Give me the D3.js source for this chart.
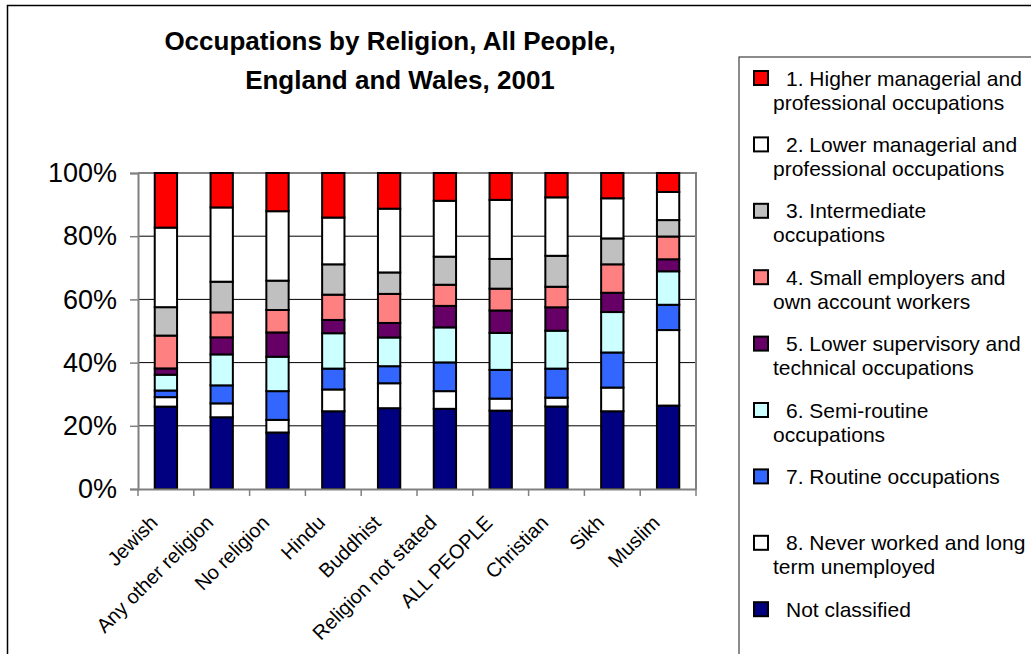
<!DOCTYPE html>
<html>
<head>
<meta charset="utf-8">
<script src="https://cdn.jsdelivr.net/npm/d3@7/dist/d3.min.js"></script>
<style>
  html, body { margin: 0; padding: 0; background: #fff; }
  svg { display: block; }
  text { font-family: "Liberation Sans", Arial, Helvetica, sans-serif; fill: #000; }
</style>
</head>
<body>
<svg id="chart" width="1031" height="654"></svg>
<script>
// ---------- DATA ----------
const categories = ["Jewish", "Any other religion", "No religion", "Hindu", "Buddhist",
  "Religion not stated", "ALL PEOPLE", "Christian", "Sikh", "Muslim"];

// stacked bottom -> top
const seriesNames = ["Not classified", "8. Never worked and long term unemployed",
  "7. Routine occupations", "6. Semi-routine occupations",
  "5. Lower supervisory and technical occupations",
  "4. Small employers and own account workers", "3. Intermediate occupations",
  "2. Lower managerial and professional occupations",
  "1. Higher managerial and professional occupations"];

const notClassified   = [26.1, 22.7, 17.9, 24.6, 25.6, 25.4, 24.8, 26.1, 24.6, 26.4];
const neverWorked     = [3.0, 4.4, 4.0, 6.9, 7.9, 5.6, 3.8, 2.8, 7.5, 23.9];
const routine         = [2.1, 5.7, 9.1, 6.6, 5.4, 9.1, 9.1, 9.2, 11.1, 8.0];
const semiRoutine     = [5.0, 9.8, 10.9, 11.2, 9.1, 11.1, 11.7, 12.0, 12.8, 10.6];
const lowerSupervisory= [2.0, 5.4, 7.7, 4.2, 4.6, 6.8, 7.1, 7.4, 6.1, 3.8];
const smallEmployers  = [10.4, 7.9, 7.1, 8.0, 9.2, 6.7, 6.9, 6.5, 9.0, 7.2];
const intermediate    = [9.0, 9.7, 9.3, 9.6, 6.8, 8.9, 9.4, 9.8, 8.2, 5.2];
const lowerManagerial = [25.2, 23.5, 22.0, 14.8, 20.2, 17.7, 18.7, 18.5, 12.7, 8.9];
const higherManagerial= [17.3, 10.9, 12.1, 14.1, 11.3, 8.8, 8.5, 7.7, 8.0, 6.0];

const seriesValues = [notClassified, neverWorked, routine, semiRoutine, lowerSupervisory,
  smallEmployers, intermediate, lowerManagerial, higherManagerial];
const seriesColors = ["#000080", "#FFFFFF", "#3366FF", "#CCFFFF", "#660066",
  "#FF8080", "#C0C0C0", "#FFFFFF", "#FF0000"];

const yTicks = [0, 0.2, 0.4, 0.6, 0.8, 1.0];

// legend (top -> bottom), text lines
const legendLines = [
  ["1. Higher managerial and", "professional occupations"],
  ["2. Lower managerial and", "professional occupations"],
  ["3. Intermediate", "occupations"],
  ["4. Small employers and", "own account workers"],
  ["5. Lower supervisory and", "technical occupations"],
  ["6. Semi-routine", "occupations"],
  ["7. Routine occupations"],
  ["8. Never worked and long", "term unemployed"],
  ["Not classified"]
];
const legendColors = ["#FF0000", "#FFFFFF", "#C0C0C0", "#FF8080", "#660066",
  "#CCFFFF", "#3366FF", "#FFFFFF", "#000080"];

// ---------- CHART ----------
const svg = d3.select("#chart");

// outer frame
svg.append("rect").attr("x", 7.5).attr("y", 5.5).attr("width", 1100).attr("height", 700)
  .attr("fill", "#fff").attr("stroke", "#000").attr("stroke-width", 1.5);

const plot = { left: 138, right: 696, top: 173, bottom: 489 };

const table = categories.map((c, i) => {
  const row = { category: c };
  seriesNames.forEach((s, j) => row[s] = seriesValues[j][i]);
  return row;
});

const stack = d3.stack().keys(seriesNames).offset(d3.stackOffsetExpand);
const stacked = stack(table);

const x = d3.scaleBand().domain(categories).range([plot.left, plot.right])
  .paddingInner(0.6).paddingOuter(0.3);
const y = d3.scaleLinear().domain([0, 1]).range([plot.bottom, plot.top]);

// gridlines
svg.append("g").selectAll("line").data(yTicks.slice(1, -1)).join("line")
  .attr("x1", plot.left).attr("x2", plot.right)
  .attr("y1", d => y(d)).attr("y2", d => y(d))
  .attr("stroke", "#000").attr("stroke-width", 1);

// plot border (top, right)
svg.append("path")
  .attr("d", `M${plot.left},${plot.top}H${plot.right}V${plot.bottom}`)
  .attr("fill", "none").attr("stroke", "#808080").attr("stroke-width", 2);

// bars
svg.append("g").selectAll("g").data(stacked).join("g")
  .attr("fill", (d, i) => seriesColors[i])
  .selectAll("rect").data(d => d).join("rect")
  .attr("x", d => x(d.data.category))
  .attr("width", x.bandwidth())
  .attr("y", d => y(d[1]))
  .attr("height", d => y(d[0]) - y(d[1]))
  .attr("stroke", "#000").attr("stroke-width", 2);

// y axis
const yAxis = svg.append("g").attr("transform", `translate(${plot.left},0)`)
  .call(d3.axisLeft(y).tickValues(yTicks).tickFormat(d3.format(".0%")).tickSize(8).tickPadding(13));
yAxis.select(".domain").attr("stroke", "#808080").attr("stroke-width", 2);
yAxis.selectAll(".tick line").attr("stroke", "#808080").attr("stroke-width", 1.5);
yAxis.selectAll(".tick text").attr("font-size", 27)
  .attr("font-family", "'Liberation Sans', Arial, sans-serif").attr("fill", "#000");

// x axis
const xAxis = svg.append("g").attr("transform", `translate(0,${plot.bottom})`)
  .call(d3.axisBottom(x).tickSize(0).tickFormat(""));
xAxis.select(".domain").attr("stroke", "#808080").attr("stroke-width", 2);
const step = x.step();
svg.append("g").selectAll("line").data(d3.range(categories.length + 1)).join("line")
  .attr("x1", i => plot.left + i * step).attr("x2", i => plot.left + i * step)
  .attr("y1", plot.bottom).attr("y2", plot.bottom + 7)
  .attr("stroke", "#808080").attr("stroke-width", 1.5);

svg.append("g").selectAll("text").data(categories).join("text")
  .attr("transform", d => `translate(${x(d) + x.bandwidth() / 2 - 7},${plot.bottom + 35}) rotate(-45)`)
  .attr("text-anchor", "end")
  .attr("font-size", 20)
  .text(d => d);

// title
const title = svg.append("text").attr("text-anchor", "middle")
  .attr("font-size", 26).attr("font-weight", "bold");
title.append("tspan").attr("x", 390).attr("y", 50).text("Occupations by Religion, All People,");
title.append("tspan").attr("x", 400).attr("y", 89).text("England and Wales, 2001");

// legend box
svg.append("rect").attr("x", 739).attr("y", 57).attr("width", 400).attr("height", 700)
  .attr("fill", "#fff").attr("stroke", "#404040").attr("stroke-width", 1.2);

const legendStep = 66.4;
const lg = svg.append("g").selectAll("g").data(legendLines).join("g")
  .attr("transform", (d, i) => `translate(0,${78 + i * legendStep})`);
lg.append("rect").attr("x", 754).attr("y", -7).attr("width", 14).attr("height", 14)
  .attr("fill", (d, i) => legendColors[i]).attr("stroke", "#000").attr("stroke-width", 2);
lg.each(function(lines) {
  const g = d3.select(this);
  lines.forEach((ln, k) => {
    g.append("text").attr("x", k === 0 ? 786 : 773).attr("y", k * 24)
      .attr("dy", "0.36em").attr("font-size", 21).text(ln);
  });
});
</script>
</body>
</html>
